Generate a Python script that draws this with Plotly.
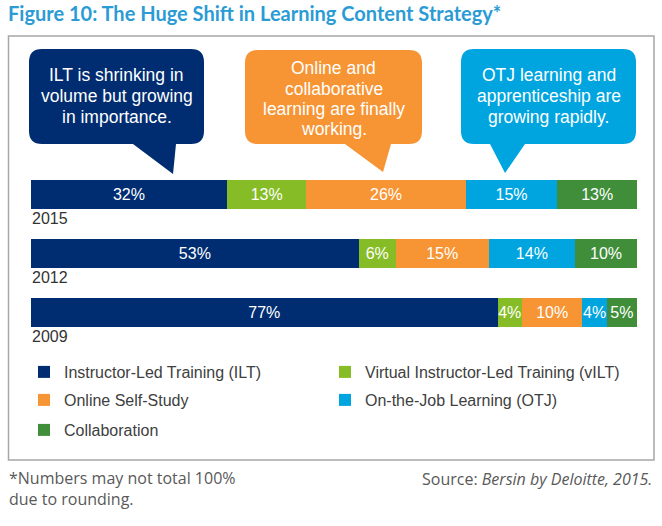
import plotly.graph_objects as go

W, H = 662, 526

years = ["2009", "2012", "2015"]
series_names = [
    "Instructor-Led Training (ILT)",
    "Virtual Instructor-Led Training (vILT)",
    "Online Self-Study",
    "On-the-Job Learning (OTJ)",
    "Collaboration",
]
ilt = [77, 53, 32]
vilt = [4, 6, 13]
online = [10, 15, 26]
otj = [4, 14, 15]
collab = [5, 10, 13]
series_values = [ilt, vilt, online, otj, collab]
colors = ["#002D72", "#86BC25", "#F79433", "#00A5DF", "#408E3A"]

bubble_texts = [
    ["ILT is shrinking in", "volume but growing", "in importance."],
    ["Online and", "collaborative", "learning are finally", "working."],
    ["OTJ learning and", "apprenticeship are", "growing rapidly."],
]

title_text = "Figure 10: The Huge Shift in Learning Content Strategy*"
footnote_text = "*Numbers may not total 100%<br>due to rounding."
source_text = "Source: <i>Bersin by Deloitte, 2015.</i>"


def px(x):
    return x / W


def py(y):
    return 1 - y / H


fig = go.Figure()
legend_ids = ["legend", "legend2", "legend3", "legend4", "legend5"]
for name, vals, col, lg in zip(series_names, series_values, colors, legend_ids):
    fig.add_trace(
        go.Bar(
            y=years,
            x=vals,
            name=name,
            orientation="h",
            marker=dict(color=col, line=dict(width=0)),
            text=[f"{v}%" for v in vals],
            textposition="inside",
            insidetextanchor="middle",
            textangle=0,
            constraintext="none",
            textfont=dict(family="Liberation Sans, Arial", size=16, color="white"),
            hoverinfo="skip",
            legend=lg,
        )
    )

# bubble shapes (pixel geometry converted to paper)
bubbles = [
    dict(x0=29, x1=204, y0=49, y1=144, tail=[(176, 144), (173, 174), (133, 144)], color=colors[0],
         cx=116.5, lines_y=[75, 96, 117]),
    dict(x0=245, x1=422, y0=50, y1=144, tail=[(391, 144), (383, 172), (345, 144)], color=colors[2],
         cx=333.5, lines_y=[68, 88.5, 109.5, 129]),
    dict(x0=461, x1=636, y0=49, y1=144, tail=[(525, 144), (505, 173), (490, 144)], color=colors[3],
         cx=548.5, lines_y=[75, 96, 117]),
]

shapes = []
# outer box
shapes.append(dict(type="rect", xref="paper", yref="paper", x0=px(8.5), x1=px(654), y0=py(460), y1=py(36),
                   line=dict(color="#A6A6A6", width=1.5), fillcolor="rgba(0,0,0,0)", layer="below"))
r = 13
for b in bubbles:
    x0, x1, y0, y1 = b["x0"], b["x1"], b["y0"], b["y1"]
    p = f"M{px(x0 + r)},{py(y0)} L{px(x1 - r)},{py(y0)} Q{px(x1)},{py(y0)} {px(x1)},{py(y0 + r)} "
    p += f"L{px(x1)},{py(y1 - r)} Q{px(x1)},{py(y1)} {px(x1 - r)},{py(y1)} "
    for tx, ty in b["tail"]:
        p += f"L{px(tx)},{py(ty)} "
    p += f"L{px(x0 + r)},{py(y1)} Q{px(x0)},{py(y1)} {px(x0)},{py(y1 - r)} "
    p += f"L{px(x0)},{py(y0 + r)} Q{px(x0)},{py(y0)} {px(x0 + r)},{py(y0)} Z"
    shapes.append(dict(type="path", xref="paper", yref="paper", path=p, fillcolor=b["color"],
                       line=dict(width=0), layer="above"))

annotations = []
for b, lines in zip(bubbles, bubble_texts):
    for ln, ly in zip(lines, b["lines_y"]):
        annotations.append(dict(xref="paper", yref="paper", x=px(b["cx"]), y=py(ly), text=ln,
                                showarrow=False, xanchor="center", yanchor="middle",
                                font=dict(family="Liberation Sans, Arial", size=17.5, color="white")))

# year labels under bars (category index positions)
for i, yr in enumerate(years):
    annotations.append(dict(xref="x", yref="y", x=0, y=i, text=yr, showarrow=False,
                            xanchor="left", yanchor="middle", yshift=-24, xshift=-1,
                            font=dict(family="Liberation Sans, Arial", size=16, color="#333333")))

annotations.append(dict(xref="paper", yref="paper", x=px(7), y=py(488), text=footnote_text,
                        showarrow=False, xanchor="left", yanchor="middle", align="left",
                        font=dict(family="Open Sans", size=16, color="#595959")))
annotations.append(dict(xref="paper", yref="paper", x=px(654), y=py(479), text=source_text,
                        showarrow=False, xanchor="right", yanchor="middle", align="right",
                        font=dict(family="Open Sans", size=16, color="#595959")))

leg_font = dict(family="Liberation Sans, Arial", size=16, color="#404040")
leg_pos = [(24, 372), (325, 372), (24, 400), (325, 400), (24, 430)]
leg_layouts = {}
for lg, (lx, ly) in zip(legend_ids, leg_pos):
    leg_layouts[lg] = dict(x=px(lx), y=py(ly), xanchor="left", yanchor="middle",
                           bgcolor="rgba(0,0,0,0)", borderwidth=0, font=leg_font,
                           orientation="v", itemclick=False, itemdoubleclick=False)

fig.update_layout(
    width=W, height=H,
    margin=dict(l=0, r=0, t=0, b=0),
    paper_bgcolor="white", plot_bgcolor="white",
    barmode="stack", barnorm="percent", bargap=0.51,
    showlegend=True,
    title=dict(text=title_text, x=px(8), y=py(14), xanchor="left", yanchor="middle",
               xref="paper", yref="paper",
               font=dict(family="Lato", size=20, weight="bold", color="#2B9BD6")),
    xaxis=dict(domain=[px(31), px(637)], range=[0, 100], visible=False, fixedrange=True),
    yaxis=dict(domain=[py(341.8), py(164.8)], range=[-0.5, 2.5], type="category",
               categoryorder="array", categoryarray=years, visible=False, fixedrange=True),
    shapes=shapes,
    annotations=annotations,
    **leg_layouts,
)

fig.write_html(
    "out.html",
    config={"displayModeBar": False},
    post_script="document.body.style.margin='0';document.body.style.padding='0';",
)
